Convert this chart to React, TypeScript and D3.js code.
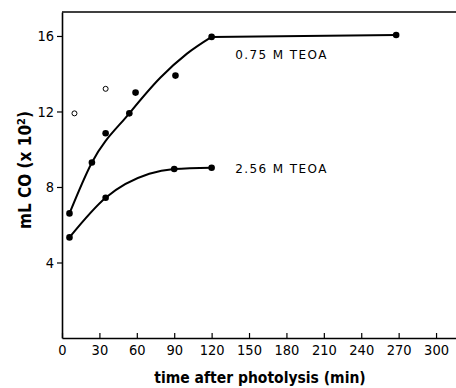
import * as d3 from "d3";
import { useRef, useEffect } from "react";

// measured points, 0.75 M TEOA (filled)
const t075 = [6, 24, 35, 54, 59, 91, 120, 268];
const co075 = [6.6, 9.3, 10.85, 11.9, 13.0, 13.9, 15.95, 16.05];
// open circles
const tOpen = [10, 35];
const coOpen = [11.9, 13.2];
// 2.56 M TEOA
const t256 = [6, 35, 90, 120];
const co256 = [5.33, 7.43, 8.95, 9.02];

// hand-drawn fit curves
const fit075T = [6, 24, 54, 79, 100, 120];
const fit075 = [6.6, 9.3, 11.9, 13.8, 15.05, 15.95];
const plateauT = [120, 268];
const plateau = [15.95, 16.05];
const fit256T = [6, 35, 70, 90, 120];
const fit256 = [5.33, 7.43, 8.7, 8.95, 9.02];

const xTicks = [0, 30, 60, 90, 120, 150, 180, 210, 240, 270, 300];
const yTicks = [4, 8, 12, 16];

const tickFont = "'Liberation Sans Narrow', 'DejaVu Sans Condensed', sans-serif";
const titleFont = "'DejaVu Sans Condensed', 'DejaVu Sans', sans-serif";
const font = "'DejaVu Sans', sans-serif";

export default function App({
  width = 456,
  height = 388,
  marginTop = 12,
  marginLeft = 62,
  marginBottom = 50,
}) {
  const gx = useRef<SVGGElement>(null);
  const gy = useRef<SVGGElement>(null);

  const x = d3.scaleLinear([0, 316], [marginLeft, width]);
  const y = d3.scaleLinear([0, 17.27], [height - marginBottom, marginTop]);

  const path = (ts: number[], vs: number[], curve: d3.CurveFactory) =>
    d3
      .line<number>()
      .x((_, i) => x(ts[i]))
      .y((d) => y(d))
      .curve(curve)(vs) ?? "";

  useEffect(() => {
    const xAxis = d3.axisBottom(x).tickValues(xTicks).tickSize(-5).tickPadding(5).tickSizeOuter(0);
    const g = d3.select(gx.current!).call(xAxis);
    g.select(".domain").attr("stroke-width", 1.6);
    g.selectAll(".tick line").attr("stroke-width", 1.2);
    g.selectAll(".tick text").attr("font-size", 14.5).attr("font-family", tickFont).attr("dy", "0.8em");
  }, []);

  useEffect(() => {
    const yAxis = d3.axisLeft(y).tickValues(yTicks).tickSize(5).tickPadding(3).tickSizeOuter(0);
    const g = d3.select(gy.current!).call(yAxis);
    g.select(".domain").attr("stroke-width", 1.6);
    g.selectAll(".tick line").attr("stroke-width", 1.2);
    g.selectAll(".tick text").attr("font-size", 14.5).attr("font-family", tickFont);
  }, []);

  return (
    <svg
      width={width}
      height={height}
      style={{ position: "absolute", left: 0, top: 0, background: "white" }}
    >
      <line x1={marginLeft} x2={width} y1={marginTop} y2={marginTop} stroke="black" strokeWidth={1.6} />
      <g ref={gx} transform={`translate(0,${height - marginBottom})`} />
      <g ref={gy} transform={`translate(${marginLeft},0)`} />

      <path d={path(fit075T, fit075, d3.curveMonotoneX)} fill="none" stroke="black" strokeWidth={2} />
      <path d={path(plateauT, plateau, d3.curveLinear)} fill="none" stroke="black" strokeWidth={2} />
      <path d={path(fit256T, fit256, d3.curveMonotoneX)} fill="none" stroke="black" strokeWidth={2} />

      {co075.map((v, i) => (
        <circle key={"a" + i} cx={x(t075[i])} cy={y(v)} r={3.3} fill="black" />
      ))}
      {co256.map((v, i) => (
        <circle key={"b" + i} cx={x(t256[i])} cy={y(v)} r={3.3} fill="black" />
      ))}
      {coOpen.map((v, i) => (
        <circle key={"c" + i} cx={x(tOpen[i])} cy={y(v)} r={2.5} fill="white" stroke="black" strokeWidth={1} />
      ))}

      <text x={x(139)} y={y(14.8)} fontFamily={font} fontSize={12} letterSpacing={1.4}>
        0.75 M  TEOA
      </text>
      <text x={x(139)} y={y(8.75)} fontFamily={font} fontSize={12} letterSpacing={1.4}>
        2.56 M  TEOA
      </text>

      <text
        x={(marginLeft + width) / 2 + 1}
        y={height - 5}
        textAnchor="middle"
        fontFamily={titleFont}
        fontSize={15.5}
        fontWeight="bold"
      >
        time after photolysis (min)
      </text>
      <text
        transform={`translate(31,${y(8.9)}) rotate(-90)`}
        textAnchor="middle"
        fontFamily={titleFont}
        fontSize={17}
        fontWeight="bold"
      >
        mL  CO (x 10<tspan dy={-6} fontSize={11}>2</tspan>
        <tspan dy={6}>)</tspan>
      </text>
    </svg>
  );
}
